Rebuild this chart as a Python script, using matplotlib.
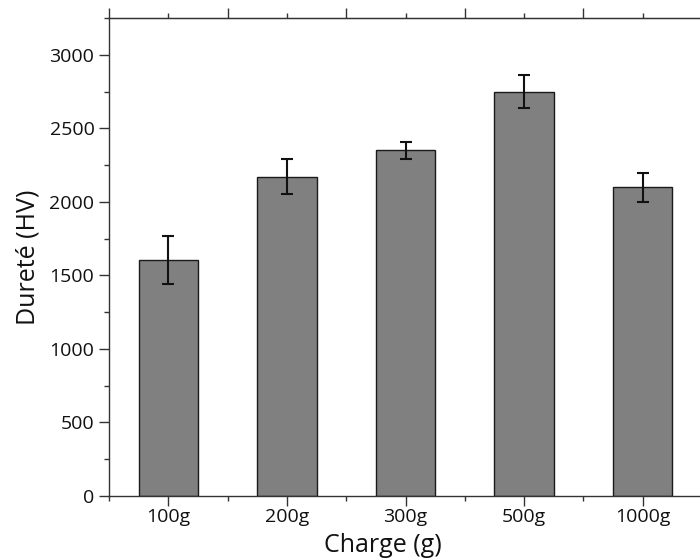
import numpy as np
import matplotlib
matplotlib.use("Agg")
import matplotlib.pyplot as plt
from matplotlib.ticker import MultipleLocator, FixedLocator

categories = ["100g", "200g", "300g", "500g", "1000g"]
hardness = [1605, 2170, 2350, 2750, 2100]
errors = [165, 120, 58, 115, 98]

plt.rcParams['font.family'] = ['Open Sans', 'DejaVu Sans']

fig = plt.figure(figsize=(7, 5.6), dpi=100)
ax = fig.add_axes([109/700, (560-496)/560, (702-109)/700, (496-18)/560])

x = np.arange(len(categories))
ax.bar(x, hardness, width=0.5, color="#808080", edgecolor="#1a1a1a", linewidth=1.0, zorder=2)
ax.errorbar(x, hardness, yerr=errors, fmt='none', ecolor='#111111', elinewidth=1.5,
            capsize=4.5, capthick=1.5, zorder=3)

ax.set_xlim(-0.5, len(categories) - 0.5)
ax.set_ylim(0, 3250)
ax.set_xticks(x)
ax.set_xticklabels(categories)
ax.xaxis.set_minor_locator(FixedLocator(np.arange(-0.5, len(categories), 1.0)))
ax.yaxis.set_major_locator(MultipleLocator(500))
ax.yaxis.set_minor_locator(MultipleLocator(250))

for s in ax.spines.values():
    s.set_color("#333333")
    s.set_linewidth(1.0)
ax.spines['right'].set_visible(False)

ax.tick_params(axis='both', which='major', direction='out', length=7, width=1.0,
               color="#333333", labelsize=14, labelcolor="#111111")
ax.tick_params(axis='both', which='minor', direction='out', length=3.5, width=1.0, color="#333333")
ax.tick_params(axis='y', which='both', right=False)
ax.tick_params(axis='x', which='major', pad=2)

sec = ax.secondary_xaxis('top')
sec.set_xticks(np.arange(-0.5, len(categories), 1.0))
sec.set_xticklabels([])
sec.xaxis.set_minor_locator(FixedLocator(x))
sec.tick_params(which='major', direction='out', length=7, width=1.0, color="#333333")
sec.tick_params(which='minor', direction='out', length=3.5, width=1.0, color="#333333")
sec.spines['top'].set_color("#333333")

ax.set_xlabel("Charge (g)", fontsize=18, color="#111111")
ax.set_ylabel("Dureté (HV)", fontsize=18, color="#111111")
ax.xaxis.set_label_coords((383 - 109) / (702 - 109), -(545 - 496) / (496 - 18))
ax.yaxis.set_label_coords(-(109 - 28) / (702 - 109), 0.5)
ax.xaxis.label.set_verticalalignment('center')
ax.yaxis.label.set_verticalalignment('center')

fig.savefig("out.png", dpi=100)
